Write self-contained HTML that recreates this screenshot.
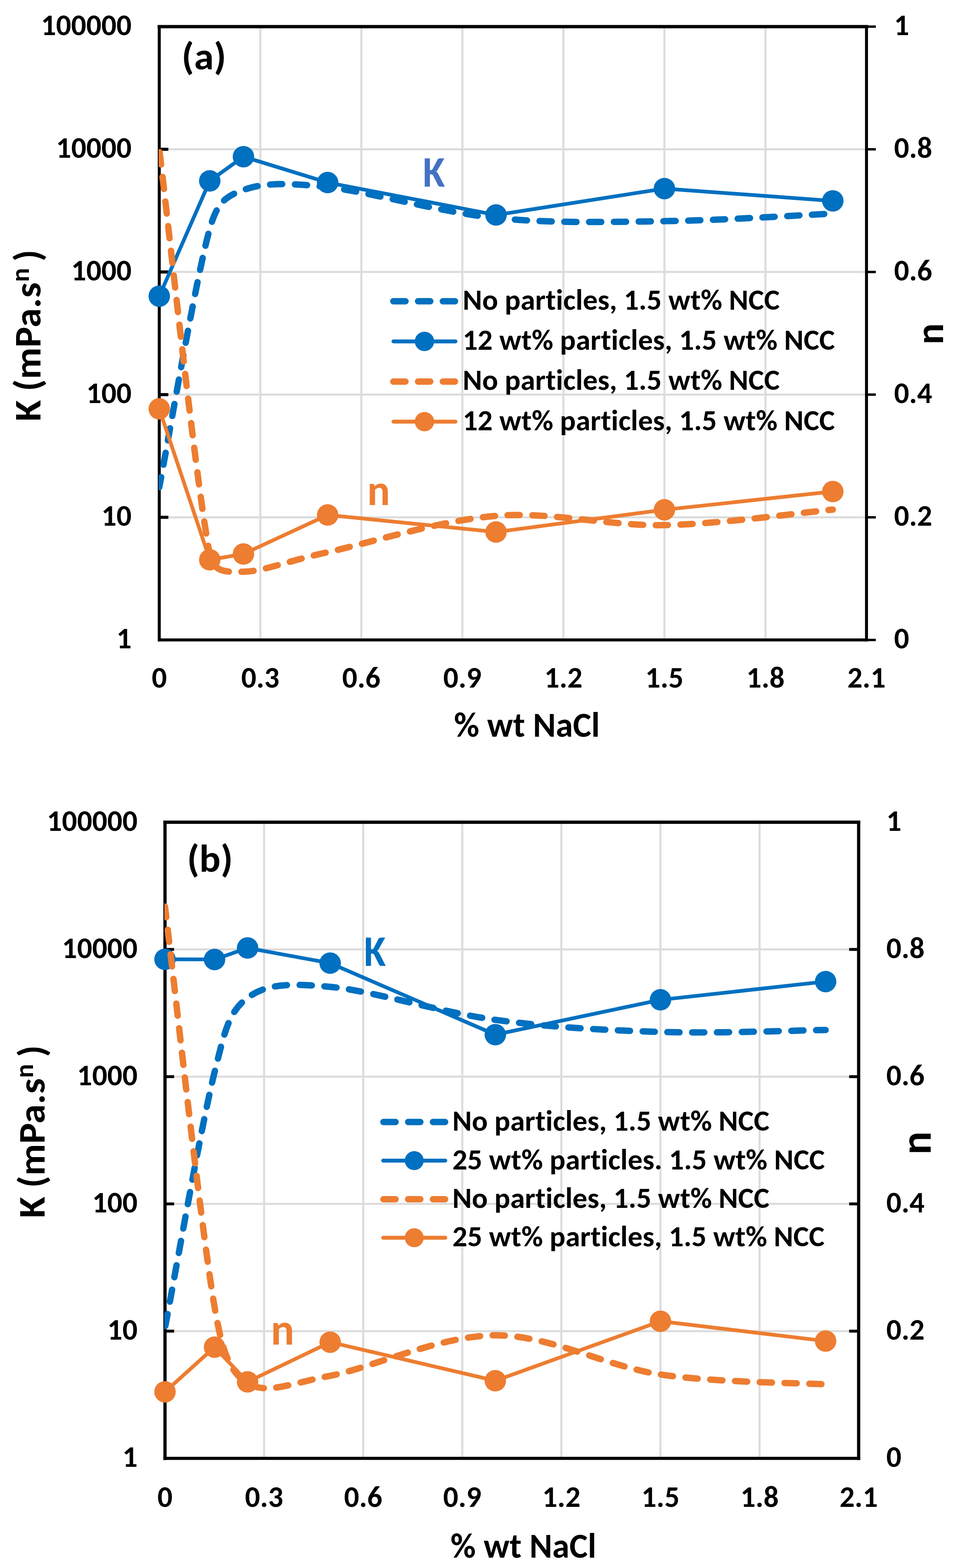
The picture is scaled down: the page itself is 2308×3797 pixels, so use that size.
<!DOCTYPE html><html><head><meta charset="utf-8"><style>html,body{margin:0;padding:0;background:#fff;width:2308px;height:3797px;overflow:hidden}</style></head><body><svg width="2308" height="3797" viewBox="0 0 2308 3797" style="display:block;font-family:Carlito,'Liberation Sans',Arial,sans-serif;font-weight:bold;font-variant-ligatures:none;font-feature-settings:'liga' 0,'clig' 0"><rect width="2308" height="3797" fill="#fff"/><g stroke="#DCDCDC" stroke-width="5.0"><line x1="385.7" y1="361.5" x2="2098.5" y2="361.5"/><line x1="385.7" y1="658.6" x2="2098.5" y2="658.6"/><line x1="385.7" y1="955.6" x2="2098.5" y2="955.6"/><line x1="385.7" y1="1252.7" x2="2098.5" y2="1252.7"/><line x1="630.4" y1="64.5" x2="630.4" y2="1549.7"/><line x1="875.1" y1="64.5" x2="875.1" y2="1549.7"/><line x1="1119.8" y1="64.5" x2="1119.8" y2="1549.7"/><line x1="1364.4" y1="64.5" x2="1364.4" y2="1549.7"/><line x1="1609.1" y1="64.5" x2="1609.1" y2="1549.7"/><line x1="1853.8" y1="64.5" x2="1853.8" y2="1549.7"/></g>
<g stroke="#000" stroke-linecap="square">
<line x1="385.7" y1="64.5" x2="2098.5" y2="64.5" stroke-width="8.2"/>
<line x1="385.7" y1="1549.7" x2="2098.5" y2="1549.7" stroke-width="7.3"/>
<line x1="385.7" y1="64.5" x2="385.7" y2="1549.7" stroke-width="7.2"/>
<line x1="2098.5" y1="64.5" x2="2098.5" y2="1549.7" stroke-width="7.2"/>
</g>
<g stroke="#000" stroke-width="7.5"><line x1="385.7" y1="361.5" x2="407.7" y2="361.5"/><line x1="385.7" y1="658.6" x2="407.7" y2="658.6"/><line x1="385.7" y1="955.6" x2="407.7" y2="955.6"/><line x1="385.7" y1="1252.7" x2="407.7" y2="1252.7"/></g>
<g stroke="#000" stroke-width="5.8"><line x1="2098.5" y1="64.5" x2="2121.0" y2="64.5"/><line x1="2098.5" y1="361.5" x2="2121.0" y2="361.5"/><line x1="2098.5" y1="658.6" x2="2121.0" y2="658.6"/><line x1="2098.5" y1="955.6" x2="2121.0" y2="955.6"/><line x1="2098.5" y1="1252.7" x2="2121.0" y2="1252.7"/><line x1="2098.5" y1="1549.7" x2="2121.0" y2="1549.7"/></g>
<clipPath id="clip64"><rect x="384.2" y="63.0" width="1715.8" height="1488.2"/></clipPath>
<path clip-path="url(#clip64)" d="M385.70,1179.80 C406.09,1075.52 474.06,674.08 508.04,554.10 C525.02,494.16 542.03,476.73 589.60,459.90 C637.18,443.07 692.12,441.85 793.51,453.10 C895.46,464.42 1065.38,514.05 1201.32,527.80 C1337.26,541.55 1473.19,537.35 1609.13,535.60 C1745.07,533.85 1948.97,520.35 2016.94,517.30" fill="none" stroke="#0070C0" stroke-width="15.5" stroke-linecap="round" stroke-linejoin="round" stroke-dasharray="29.5 30.5" stroke-dashoffset="4.50"/>
<path clip-path="url(#clip64)" d="M385.70,717.20 L508.04,438.00 L589.60,379.40 L793.51,442.10 L1201.32,520.60 L1609.13,456.70 L2016.94,486.40" fill="none" stroke="#0070C0" stroke-width="9.0" stroke-linejoin="round" stroke-linecap="round"/>
<g fill="#0070C0"><circle cx="385.7" cy="717.2" r="26.0"/><circle cx="508.0" cy="438.0" r="26.0"/><circle cx="589.6" cy="379.4" r="26.0"/><circle cx="793.5" cy="442.1" r="26.0"/><circle cx="1201.3" cy="520.6" r="26.0"/><circle cx="1609.1" cy="456.7" r="26.0"/><circle cx="2016.9" cy="486.4" r="26.0"/></g>
<path clip-path="url(#clip64)" d="M385.70,361.00 C406.09,524.40 474.06,1170.82 508.04,1341.40 C517.05,1386.64 543.49,1385.18 589.60,1384.50 C637.18,1383.80 691.56,1359.75 793.51,1337.20 C895.46,1314.65 1065.38,1260.13 1201.32,1249.20 C1337.26,1238.27 1473.19,1274.13 1609.13,1271.60 C1745.07,1269.07 1948.97,1240.27 2016.94,1234.00" fill="none" stroke="#ED7D31" stroke-width="15.5" stroke-linecap="round" stroke-linejoin="round" stroke-dasharray="29.5 30.5" stroke-dashoffset="-8.00"/>
<path clip-path="url(#clip64)" d="M385.70,990.10 L508.04,1355.50 L589.60,1341.50 L793.51,1247.10 L1201.32,1288.30 L1609.13,1234.40 L2016.94,1190.30" fill="none" stroke="#ED7D31" stroke-width="9.0" stroke-linejoin="round" stroke-linecap="round"/>
<g fill="#ED7D31"><circle cx="385.7" cy="990.1" r="26.0"/><circle cx="508.0" cy="1355.5" r="26.0"/><circle cx="589.6" cy="1341.5" r="26.0"/><circle cx="793.5" cy="1247.1" r="26.0"/><circle cx="1201.3" cy="1288.3" r="26.0"/><circle cx="1609.1" cy="1234.4" r="26.0"/><circle cx="2016.9" cy="1190.3" r="26.0"/></g>
<text x="318.7" y="1569.9" font-size="72.2" text-anchor="end" fill="#000" textLength="36.6" lengthAdjust="spacingAndGlyphs">1</text>
<text x="318.7" y="1272.9" font-size="72.2" text-anchor="end" fill="#000" textLength="73.2" lengthAdjust="spacingAndGlyphs">10</text>
<text x="318.7" y="975.8" font-size="72.2" text-anchor="end" fill="#000" textLength="109.8" lengthAdjust="spacingAndGlyphs">100</text>
<text x="318.7" y="678.8" font-size="72.2" text-anchor="end" fill="#000" textLength="146.4" lengthAdjust="spacingAndGlyphs">1000</text>
<text x="318.7" y="381.7" font-size="72.2" text-anchor="end" fill="#000" textLength="182.9" lengthAdjust="spacingAndGlyphs">10000</text>
<text x="318.7" y="84.7" font-size="72.2" text-anchor="end" fill="#000" textLength="219.5" lengthAdjust="spacingAndGlyphs">100000</text>
<text x="2165.2" y="1569.9" font-size="72.2" fill="#000" textLength="36.6" lengthAdjust="spacingAndGlyphs">0</text>
<text x="2165.2" y="1272.9" font-size="72.2" fill="#000" textLength="92.5" lengthAdjust="spacingAndGlyphs">0.2</text>
<text x="2165.2" y="975.8" font-size="72.2" fill="#000" textLength="92.5" lengthAdjust="spacingAndGlyphs">0.4</text>
<text x="2165.2" y="678.8" font-size="72.2" fill="#000" textLength="92.5" lengthAdjust="spacingAndGlyphs">0.6</text>
<text x="2165.2" y="381.7" font-size="72.2" fill="#000" textLength="92.5" lengthAdjust="spacingAndGlyphs">0.8</text>
<text x="2165.2" y="84.7" font-size="72.2" fill="#000" textLength="36.6" lengthAdjust="spacingAndGlyphs">1</text>
<text x="385.7" y="1665.0" font-size="72.2" text-anchor="middle" fill="#000" textLength="36.6" lengthAdjust="spacingAndGlyphs">0</text>
<text x="630.4" y="1665.0" font-size="72.2" text-anchor="middle" fill="#000" textLength="92.5" lengthAdjust="spacingAndGlyphs">0.3</text>
<text x="875.1" y="1665.0" font-size="72.2" text-anchor="middle" fill="#000" textLength="92.5" lengthAdjust="spacingAndGlyphs">0.6</text>
<text x="1119.8" y="1665.0" font-size="72.2" text-anchor="middle" fill="#000" textLength="92.5" lengthAdjust="spacingAndGlyphs">0.9</text>
<text x="1364.4" y="1665.0" font-size="72.2" text-anchor="middle" fill="#000" textLength="92.5" lengthAdjust="spacingAndGlyphs">1.2</text>
<text x="1609.1" y="1665.0" font-size="72.2" text-anchor="middle" fill="#000" textLength="92.5" lengthAdjust="spacingAndGlyphs">1.5</text>
<text x="1853.8" y="1665.0" font-size="72.2" text-anchor="middle" fill="#000" textLength="92.5" lengthAdjust="spacingAndGlyphs">1.8</text>
<text x="2098.5" y="1665.0" font-size="72.2" text-anchor="middle" fill="#000" textLength="92.5" lengthAdjust="spacingAndGlyphs">2.1</text>
<text x="1276.0" y="1784.3" font-size="84.0" text-anchor="middle" fill="#000" textLength="353.1" lengthAdjust="spacingAndGlyphs">% wt NaCl</text>
<text transform="translate(97.5,1020.5) rotate(-90)" font-size="92.0" textLength="336.9" lengthAdjust="spacingAndGlyphs">K (mPa.s</text>
<text transform="translate(69.5,682.7) rotate(-90)" font-size="63.0" textLength="33.8" lengthAdjust="spacingAndGlyphs">n</text>
<text transform="translate(97.5,633.2) rotate(-90)" font-size="92.0" textLength="28.7" lengthAdjust="spacingAndGlyphs">)</text>
<text transform="translate(2283.8,834.3) rotate(-90)" font-size="96.0" textLength="51.5" lengthAdjust="spacingAndGlyphs">n</text>
<text x="439.8" y="168.0" font-size="93.0" textLength="108.0" lengthAdjust="spacingAndGlyphs" fill="#000">(a)</text>
<text x="1024.1" y="451.5" font-size="105.4" textLength="53.6" lengthAdjust="spacingAndGlyphs" fill="#4472C4">K</text>
<text x="889.2" y="1223.1" font-size="105.5" textLength="55.4" lengthAdjust="spacingAndGlyphs" fill="#ED7D31">n</text>
<line x1="952.5" y1="729.5" x2="1102.0" y2="729.5" stroke="#0070C0" stroke-width="15.5" stroke-linecap="round" stroke-dasharray="29.5 30.5"/>
<text x="1120.5" y="750.0" font-size="71.6" fill="#000" textLength="767.8" lengthAdjust="spacingAndGlyphs">No particles, 1.5 wt% NCC</text>
<line x1="953.0" y1="826.7" x2="1103.0" y2="826.7" stroke="#0070C0" stroke-width="9.5" stroke-linecap="round"/>
<circle cx="1028.0" cy="826.7" r="23.5" fill="#0070C0"/>
<text x="1120.5" y="847.2" font-size="71.6" fill="#000" textLength="901.5" lengthAdjust="spacingAndGlyphs">12 wt% particles, 1.5 wt% NCC</text>
<line x1="952.5" y1="923.9" x2="1102.0" y2="923.9" stroke="#ED7D31" stroke-width="15.5" stroke-linecap="round" stroke-dasharray="29.5 30.5"/>
<text x="1120.5" y="944.4" font-size="71.6" fill="#000" textLength="767.8" lengthAdjust="spacingAndGlyphs">No particles, 1.5 wt% NCC</text>
<line x1="953.0" y1="1021.1" x2="1103.0" y2="1021.1" stroke="#ED7D31" stroke-width="9.5" stroke-linecap="round"/>
<circle cx="1028.0" cy="1021.1" r="23.5" fill="#ED7D31"/>
<text x="1120.5" y="1041.6" font-size="71.6" fill="#000" textLength="901.5" lengthAdjust="spacingAndGlyphs">12 wt% particles, 1.5 wt% NCC</text>
<g stroke="#DCDCDC" stroke-width="5.0"><line x1="399.6" y1="2299.1" x2="2079.5" y2="2299.1"/><line x1="399.6" y1="2607.2" x2="2079.5" y2="2607.2"/><line x1="399.6" y1="2915.3" x2="2079.5" y2="2915.3"/><line x1="399.6" y1="3223.4" x2="2079.5" y2="3223.4"/><line x1="639.6" y1="1991.0" x2="639.6" y2="3531.5"/><line x1="879.6" y1="1991.0" x2="879.6" y2="3531.5"/><line x1="1119.6" y1="1991.0" x2="1119.6" y2="3531.5"/><line x1="1359.5" y1="1991.0" x2="1359.5" y2="3531.5"/><line x1="1599.5" y1="1991.0" x2="1599.5" y2="3531.5"/><line x1="1839.5" y1="1991.0" x2="1839.5" y2="3531.5"/></g>
<g stroke="#000" stroke-linecap="square">
<line x1="399.6" y1="1991.0" x2="2079.5" y2="1991.0" stroke-width="7.8"/>
<line x1="399.6" y1="3531.5" x2="2079.5" y2="3531.5" stroke-width="7.7"/>
<line x1="399.6" y1="1991.0" x2="399.6" y2="3531.5" stroke-width="7.8"/>
<line x1="2079.5" y1="1991.0" x2="2079.5" y2="3531.5" stroke-width="7.8"/>
</g>
<g stroke="#000" stroke-width="7.0"><line x1="399.6" y1="2299.1" x2="421.6" y2="2299.1"/><line x1="399.6" y1="2607.2" x2="421.6" y2="2607.2"/><line x1="399.6" y1="2915.3" x2="421.6" y2="2915.3"/><line x1="399.6" y1="3223.4" x2="421.6" y2="3223.4"/></g>
<g stroke="#000" stroke-width="7.0"><line x1="2079.5" y1="2299.1" x2="2056.5" y2="2299.1"/><line x1="2079.5" y1="2607.2" x2="2056.5" y2="2607.2"/><line x1="2079.5" y1="2915.3" x2="2056.5" y2="2915.3"/><line x1="2079.5" y1="3223.4" x2="2056.5" y2="3223.4"/></g>
<clipPath id="clip1991"><rect x="398.1" y="1989.5" width="1682.9" height="1543.5"/></clipPath>
<path clip-path="url(#clip1991)" d="M399.60,3215.30 C419.60,3112.17 486.26,2729.68 519.59,2596.50 C543.54,2500.83 552.92,2450.67 599.59,2416.20 C646.25,2381.73 699.58,2380.80 799.58,2389.70 C899.57,2398.60 1066.23,2451.40 1199.55,2469.60 C1332.88,2487.80 1466.20,2494.80 1599.53,2498.90 C1732.85,2503.00 1932.84,2494.98 1999.50,2494.20" fill="none" stroke="#0070C0" stroke-width="15.5" stroke-linecap="round" stroke-linejoin="round" stroke-dasharray="29.5 30.5" stroke-dashoffset="-4.50"/>
<path clip-path="url(#clip1991)" d="M399.60,2323.00 L519.59,2323.40 L599.59,2295.60 L799.58,2332.30 L1199.55,2505.50 L1599.53,2421.10 L1999.50,2376.90" fill="none" stroke="#0070C0" stroke-width="9.0" stroke-linejoin="round" stroke-linecap="round"/>
<g fill="#0070C0"><circle cx="399.6" cy="2323.0" r="26.0"/><circle cx="519.6" cy="2323.4" r="26.0"/><circle cx="599.6" cy="2295.6" r="26.0"/><circle cx="799.6" cy="2332.3" r="26.0"/><circle cx="1199.6" cy="2505.5" r="26.0"/><circle cx="1599.5" cy="2421.1" r="26.0"/><circle cx="1999.5" cy="2376.9" r="26.0"/></g>
<path clip-path="url(#clip1991)" d="M399.60,2195.40 C419.60,2356.93 486.26,2972.22 519.59,3164.60 C536.80,3263.94 552.92,3321.87 599.59,3349.70 C646.25,3377.53 701.01,3350.69 799.58,3331.60 C899.57,3312.23 1066.23,3234.03 1199.55,3233.50 C1332.88,3232.97 1466.20,3308.58 1599.53,3328.40 C1732.85,3348.22 1932.84,3348.40 1999.50,3352.40" fill="none" stroke="#ED7D31" stroke-width="15.5" stroke-linecap="round" stroke-linejoin="round" stroke-dasharray="29.5 30.5" stroke-dashoffset="3.50"/>
<path clip-path="url(#clip1991)" d="M399.60,3370.40 L519.59,3262.20 L599.59,3346.30 L799.58,3250.20 L1199.55,3343.50 L1599.53,3199.50 L1999.50,3247.40" fill="none" stroke="#ED7D31" stroke-width="9.0" stroke-linejoin="round" stroke-linecap="round"/>
<g fill="#ED7D31"><circle cx="399.6" cy="3370.4" r="26.0"/><circle cx="519.6" cy="3262.2" r="26.0"/><circle cx="599.6" cy="3346.3" r="26.0"/><circle cx="799.6" cy="3250.2" r="26.0"/><circle cx="1199.6" cy="3343.5" r="26.0"/><circle cx="1599.5" cy="3199.5" r="26.0"/><circle cx="1999.5" cy="3247.4" r="26.0"/></g>
<text x="333.0" y="3552.1" font-size="72.2" text-anchor="end" fill="#000" textLength="36.6" lengthAdjust="spacingAndGlyphs">1</text>
<text x="333.0" y="3244.0" font-size="72.2" text-anchor="end" fill="#000" textLength="73.2" lengthAdjust="spacingAndGlyphs">10</text>
<text x="333.0" y="2935.9" font-size="72.2" text-anchor="end" fill="#000" textLength="109.8" lengthAdjust="spacingAndGlyphs">100</text>
<text x="333.0" y="2627.8" font-size="72.2" text-anchor="end" fill="#000" textLength="146.4" lengthAdjust="spacingAndGlyphs">1000</text>
<text x="333.0" y="2319.7" font-size="72.2" text-anchor="end" fill="#000" textLength="182.9" lengthAdjust="spacingAndGlyphs">10000</text>
<text x="333.0" y="2011.6" font-size="72.2" text-anchor="end" fill="#000" textLength="219.5" lengthAdjust="spacingAndGlyphs">100000</text>
<text x="2146.6" y="3552.1" font-size="72.2" fill="#000" textLength="36.6" lengthAdjust="spacingAndGlyphs">0</text>
<text x="2146.6" y="3244.0" font-size="72.2" fill="#000" textLength="92.5" lengthAdjust="spacingAndGlyphs">0.2</text>
<text x="2146.6" y="2935.9" font-size="72.2" fill="#000" textLength="92.5" lengthAdjust="spacingAndGlyphs">0.4</text>
<text x="2146.6" y="2627.8" font-size="72.2" fill="#000" textLength="92.5" lengthAdjust="spacingAndGlyphs">0.6</text>
<text x="2146.6" y="2319.7" font-size="72.2" fill="#000" textLength="92.5" lengthAdjust="spacingAndGlyphs">0.8</text>
<text x="2146.6" y="2011.6" font-size="72.2" fill="#000" textLength="36.6" lengthAdjust="spacingAndGlyphs">1</text>
<text x="399.6" y="3649.0" font-size="72.2" text-anchor="middle" fill="#000" textLength="36.6" lengthAdjust="spacingAndGlyphs">0</text>
<text x="639.6" y="3649.0" font-size="72.2" text-anchor="middle" fill="#000" textLength="92.5" lengthAdjust="spacingAndGlyphs">0.3</text>
<text x="879.6" y="3649.0" font-size="72.2" text-anchor="middle" fill="#000" textLength="92.5" lengthAdjust="spacingAndGlyphs">0.6</text>
<text x="1119.6" y="3649.0" font-size="72.2" text-anchor="middle" fill="#000" textLength="92.5" lengthAdjust="spacingAndGlyphs">0.9</text>
<text x="1359.5" y="3649.0" font-size="72.2" text-anchor="middle" fill="#000" textLength="92.5" lengthAdjust="spacingAndGlyphs">1.2</text>
<text x="1599.5" y="3649.0" font-size="72.2" text-anchor="middle" fill="#000" textLength="92.5" lengthAdjust="spacingAndGlyphs">1.5</text>
<text x="1839.5" y="3649.0" font-size="72.2" text-anchor="middle" fill="#000" textLength="92.5" lengthAdjust="spacingAndGlyphs">1.8</text>
<text x="2079.5" y="3649.0" font-size="72.2" text-anchor="middle" fill="#000" textLength="92.5" lengthAdjust="spacingAndGlyphs">2.1</text>
<text x="1267.5" y="3772.3" font-size="84.0" text-anchor="middle" fill="#000" textLength="353.1" lengthAdjust="spacingAndGlyphs">% wt NaCl</text>
<text transform="translate(107.7,2949.8) rotate(-90)" font-size="92.0" textLength="338.8" lengthAdjust="spacingAndGlyphs">K (mPa.s</text>
<text transform="translate(79.7,2610.2) rotate(-90)" font-size="63.0" textLength="33.8" lengthAdjust="spacingAndGlyphs">n</text>
<text transform="translate(107.7,2559.7) rotate(-90)" font-size="92.0" textLength="28.7" lengthAdjust="spacingAndGlyphs">)</text>
<text transform="translate(2254.4,2796.0) rotate(-90)" font-size="104.7" textLength="56.2" lengthAdjust="spacingAndGlyphs">n</text>
<text x="452.9" y="2110.7" font-size="93.0" textLength="111.1" lengthAdjust="spacingAndGlyphs" fill="#000">(b)</text>
<text x="881.5" y="2339.1" font-size="105.2" textLength="52.9" lengthAdjust="spacingAndGlyphs" fill="#0070C0">K</text>
<text x="655.8" y="3255.7" font-size="107.3" textLength="57.0" lengthAdjust="spacingAndGlyphs" fill="#ED7D31">n</text>
<line x1="928.5" y1="2717.1" x2="1078.0" y2="2717.1" stroke="#0070C0" stroke-width="15.5" stroke-linecap="round" stroke-dasharray="29.5 30.5"/>
<text x="1095.5" y="2738.1" font-size="71.6" fill="#000" textLength="767.8" lengthAdjust="spacingAndGlyphs">No particles, 1.5 wt% NCC</text>
<line x1="928.0" y1="2810.5" x2="1078.4" y2="2810.5" stroke="#0070C0" stroke-width="9.5" stroke-linecap="round"/>
<circle cx="1003.2" cy="2810.5" r="23.0" fill="#0070C0"/>
<text x="1095.5" y="2831.5" font-size="71.6" fill="#000" textLength="902.2" lengthAdjust="spacingAndGlyphs">25 wt% particles. 1.5 wt% NCC</text>
<line x1="928.5" y1="2903.9" x2="1078.0" y2="2903.9" stroke="#ED7D31" stroke-width="15.5" stroke-linecap="round" stroke-dasharray="29.5 30.5"/>
<text x="1095.5" y="2924.9" font-size="71.6" fill="#000" textLength="767.8" lengthAdjust="spacingAndGlyphs">No particles, 1.5 wt% NCC</text>
<line x1="928.0" y1="2997.3" x2="1078.4" y2="2997.3" stroke="#ED7D31" stroke-width="9.5" stroke-linecap="round"/>
<circle cx="1003.2" cy="2997.3" r="23.0" fill="#ED7D31"/>
<text x="1095.5" y="3018.3" font-size="71.6" fill="#000" textLength="901.5" lengthAdjust="spacingAndGlyphs">25 wt% particles, 1.5 wt% NCC</text></svg></body></html>
